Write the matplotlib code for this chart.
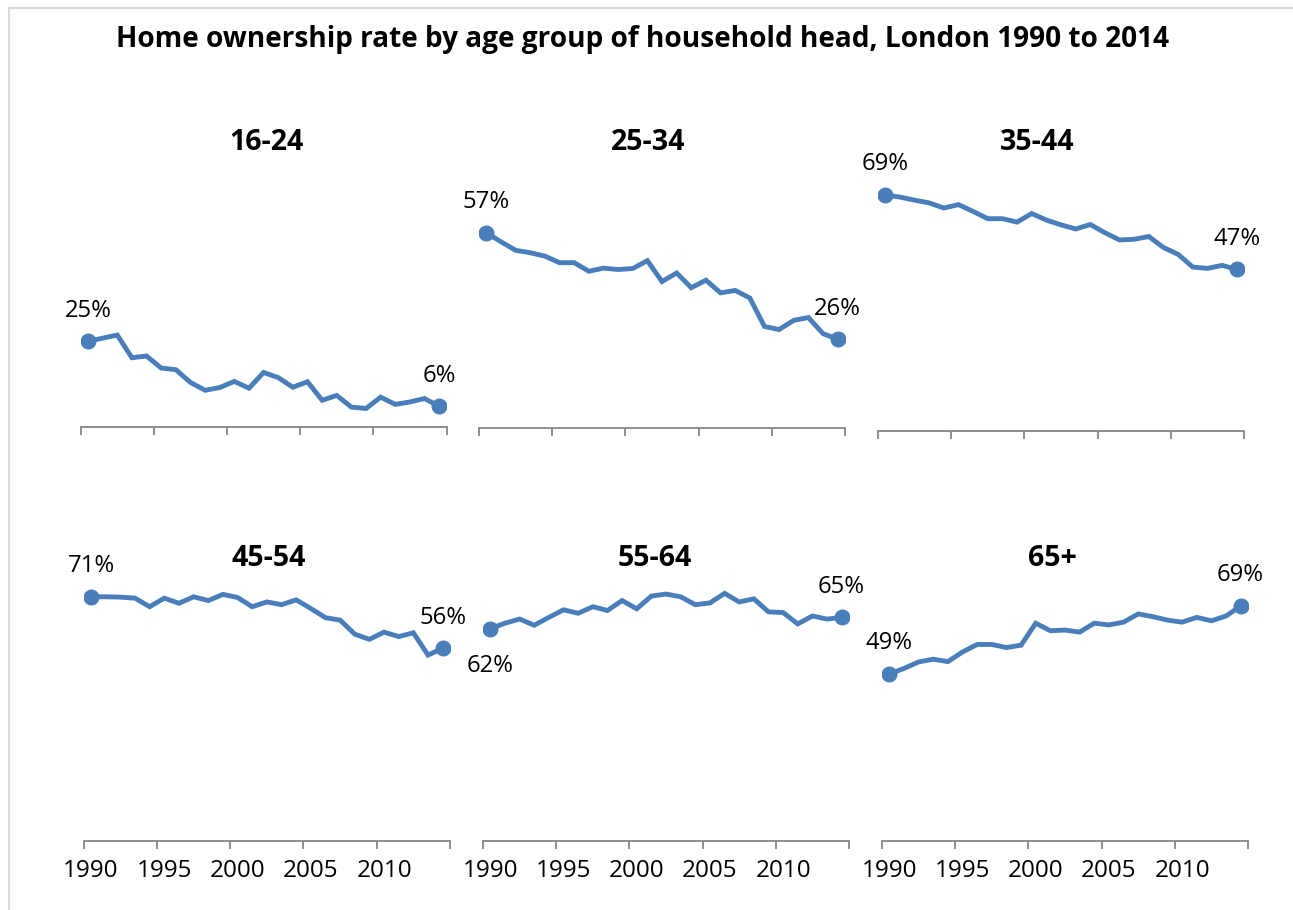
import matplotlib
matplotlib.use('Agg')
import matplotlib.pyplot as plt
from matplotlib.lines import Line2D
import numpy as np

plt.rcParams['font.family'] = ['Open Sans', 'DejaVu Sans']

years = list(range(1990, 2015))
groups = ['16-24', '25-34', '35-44', '45-54', '55-64', '65+']

rate_16_24 = [25.0, 25.9, 26.8, 20.2, 20.7, 17.2, 16.7, 13.0, 10.7, 11.5, 13.3, 11.3, 15.9,
              14.4, 11.6, 13.2, 7.8, 9.2, 5.8, 5.4, 8.7, 6.6, 7.3, 8.3, 6.0]
rate_25_34 = [56.9, 54.3, 51.8, 51.1, 50.1, 48.2, 48.2, 45.7, 46.6, 46.2, 46.5, 48.8, 42.7,
              45.2, 40.9, 43.1, 39.4, 40.1, 37.9, 29.6, 28.7, 31.4, 32.2, 27.5, 25.9]
rate_35_44 = [68.8, 68.2, 67.3, 66.5, 65.0, 66.0, 64.0, 61.9, 61.9, 60.9, 63.4, 61.5, 60.1,
              58.9, 60.2, 57.8, 55.7, 55.9, 56.7, 53.5, 51.5, 47.8, 47.4, 48.3, 47.1]
rate_45_54 = [71.2, 71.2, 71.1, 70.8, 68.3, 70.8, 69.3, 71.2, 70.1, 71.9, 71.0, 68.3, 69.7,
              68.9, 70.3, 67.8, 65.1, 64.4, 60.3, 58.8, 60.9, 59.6, 60.7, 54.2, 56.2]
rate_55_64 = [61.9, 63.5, 64.7, 62.9, 65.2, 67.4, 66.4, 68.3, 67.2, 70.1, 67.7, 71.4, 72.0,
              71.2, 68.9, 69.4, 72.2, 69.7, 70.6, 66.8, 66.6, 63.3, 65.6, 64.7, 65.2]
rate_65_plus = [48.7, 50.3, 52.2, 53.0, 52.3, 55.1, 57.3, 57.3, 56.4, 57.1, 63.5, 61.3, 61.5,
                60.9, 63.5, 63.0, 63.8, 66.2, 65.4, 64.4, 63.8, 65.2, 64.2, 65.6, 68.5]
series = [rate_16_24, rate_25_34, rate_35_44, rate_45_54, rate_55_64, rate_65_plus]

# labelled start / end values and whether the start label sits below the point
start_labels = ['25%', '57%', '69%', '71%', '62%', '49%']
end_labels = ['6%', '26%', '47%', '56%', '65%', '69%']
start_below = [False, False, False, False, True, False]

blue = '#4a7ebb'
grey = '#868686'

W, H = 1293, 910
fig = plt.figure(figsize=(W / 100, H / 100), dpi=100)

# axes boxes in pixels: left, right, axis-line y
boxes = [(80.7, 446.5, 427), (479, 845, 428), (878, 1244, 431),
         (83.7, 450, 841), (483, 849, 841), (882, 1248, 841)]
title_x = [267, 648, 1037, 269, 655, 1052]
title_y = [143, 143, 143, 558, 558, 558]
px_per_pct = 3.43
ymax = 80

for i in range(6):
    l, r, yb = boxes[i]
    h = ymax * px_per_pct
    ax = fig.add_axes([l / W, (H - yb) / H, (r - l) / W, h / H])
    vals = series[i]
    ax.plot(years, vals, color=blue, lw=3.5, solid_joinstyle='miter', zorder=3)
    ax.plot([years[0], years[-1]], [vals[0], vals[-1]], 'o', color=blue, ms=10.5, zorder=4)
    ax.set_xlim(1989.5, 2014.5)
    ax.set_ylim(0, ymax)
    for s in ['top', 'right', 'left']:
        ax.spines[s].set_visible(False)
    ax.spines['bottom'].set_color(grey)
    ax.spines['bottom'].set_linewidth(1.3)
    ax.set_yticks([])
    ax.set_xticks(np.arange(1989.5, 2015, 5), minor=True)
    ax.set_xticks([1990, 1995, 2000, 2005, 2010])
    ax.tick_params(axis='x', which='minor', length=6, width=1.3, color=grey, direction='out')
    ax.tick_params(axis='x', which='major', length=0, pad=13, labelsize=17.5, labelcolor='black')
    if i < 3:
        ax.set_xticklabels([])
    ax.patch.set_visible(False)

    sl_off = -27 if start_below[i] else 22
    ax.annotate(start_labels[i], (years[0], vals[0]), xytext=(0, sl_off), textcoords='offset points',
                ha='center', va='center', fontsize=17.2, clip_on=False)
    ax.annotate(end_labels[i], (years[-1], vals[-1]), xytext=(0, 22), textcoords='offset points',
                ha='center', va='center', fontsize=17.2, clip_on=False)

    fig.text(title_x[i] / W, 1 - title_y[i] / H, groups[i], ha='center', va='center',
             fontsize=20.5, fontweight='bold')

fig.text(643 / W, 1 - 40 / H,
         'Home ownership rate by age group of household head, London 1990 to 2014',
         ha='center', va='center', fontsize=20.2, fontweight='bold')

# light chart border (left and top edges)
fig.add_artist(Line2D([9 / W, 9 / W], [0, 1 - 8 / H], color='#d9d9d9', lw=1.5))
fig.add_artist(Line2D([9 / W, 1], [1 - 8 / H, 1 - 8 / H], color='#d9d9d9', lw=1.5))

fig.savefig('out.png', dpi=100)
